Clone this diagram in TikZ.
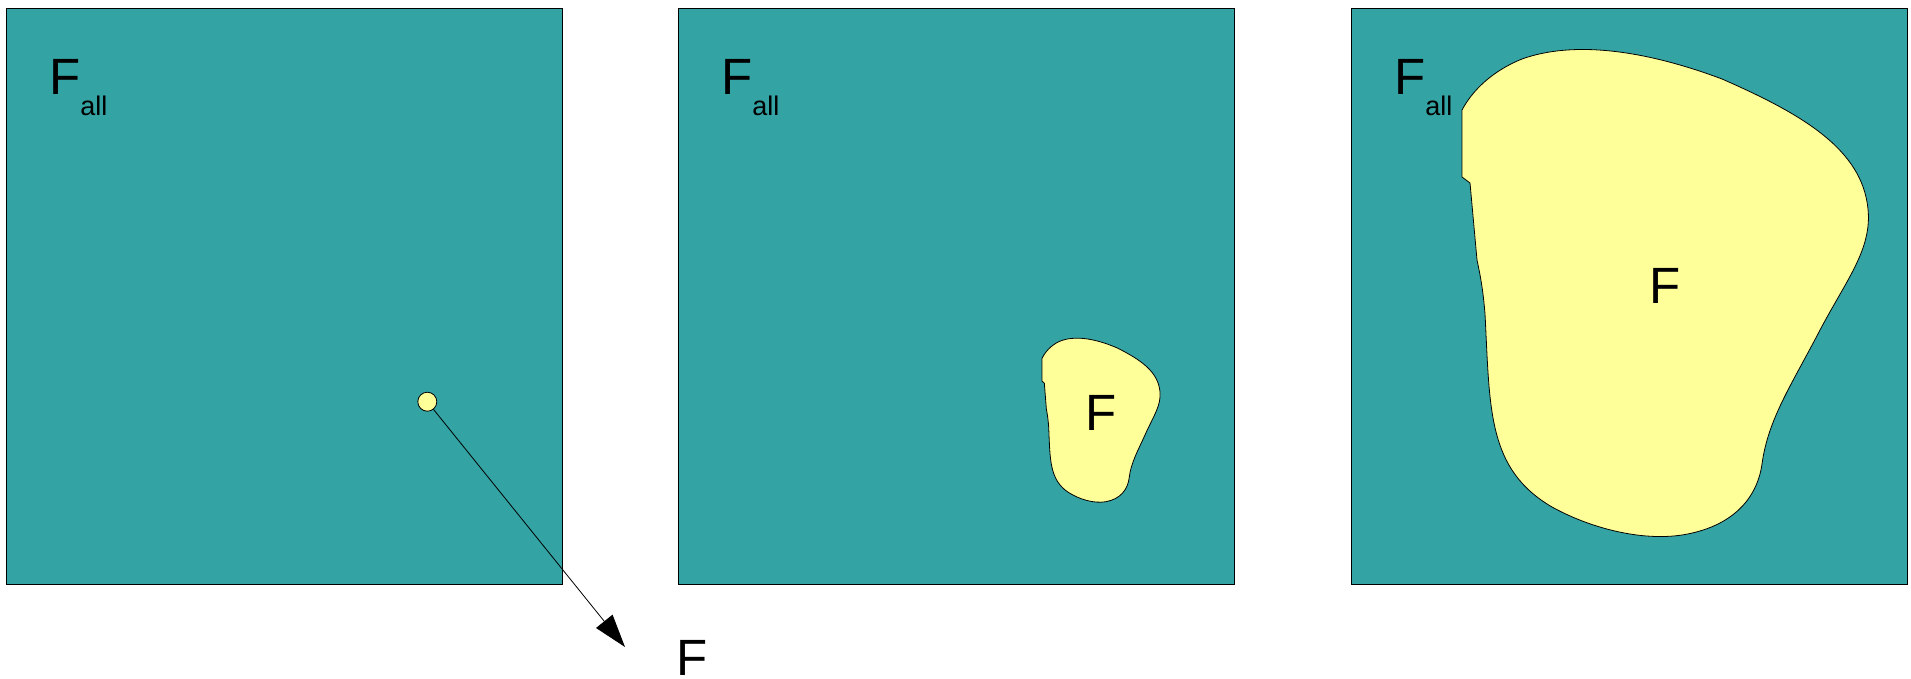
\documentclass[tikz,border=0pt]{standalone}
\usepackage{fontspec}
\setmainfont{Liberation Sans}
\usepackage{tikz}
\usetikzlibrary{arrows.meta}
\definecolor{poolteal}{RGB}{51,163,164}
\definecolor{setyellow}{RGB}{255,255,153}

\begin{document}
\begin{tikzpicture}[
  x=1pt, y=-1pt, >={Triangle[length=33pt,width=21pt]},
  panel/.style={draw, fill=poolteal, line width=0.8pt},
  region/.style={draw, fill=setyellow, line width=0.8pt},
  dot/.style={circle, draw, fill=setyellow, minimum size=19pt, inner sep=0pt, line width=0.8pt},
  letter/.style={inner sep=0pt, font=\fontsize{51}{51}\selectfont},
  blob/.pic={
    \draw[region] (0,61) -- (0,128) -- (8,134) -- (15,211)
      .. controls (18,225) and (21,240) .. (23,265)
      .. controls (28,360) and (25,420) .. (90,458)
      .. controls (130,480) and (180,492) .. (220,486)
      .. controls (270,478) and (295,450) .. (300,415)
      .. controls (306,370) and (330,335) .. (358,281)
      .. controls (385,230) and (410,200) .. (406,160)
      .. controls (400,100) and (340,65) .. (260,30)
      .. controls (180,0) and (110,-8) .. (60,10)
      .. controls (30,22) and (10,42) .. (0,61) -- cycle;
  },
]
\useasboundingbox (0,0) rectangle (1911,678);
% three panels, each with its F_all label
\foreach \x [count=\i] in {6,678,1351} {
  \draw[panel] (\x,8) rectangle ++(556,576);
  \node[letter, anchor=base west] (fall\i) at (\x+43,94)
    {F\raisebox{-21pt}{\fontsize{27}{27}\selectfont all}};
}
% the subsets F
\pic[xscale=0.2906, yscale=0.3368] at (1042,338) {blob};
\pic at (1462,49) {blob};
\node[letter, anchor=base] (fmid) at (1101,430) {F};
\node[letter, anchor=base] (fbig) at (1665.5,303) {F};
% single point and its label
\node[dot] (pt) at (427.3,401.7) {};
\coordinate (tip) at (625,647);
\draw[->, line width=0.8pt] (pt) -- (tip);
\node[letter, anchor=base] (fsmall) at (692.5,675) {F};
\end{tikzpicture}
\end{document}
